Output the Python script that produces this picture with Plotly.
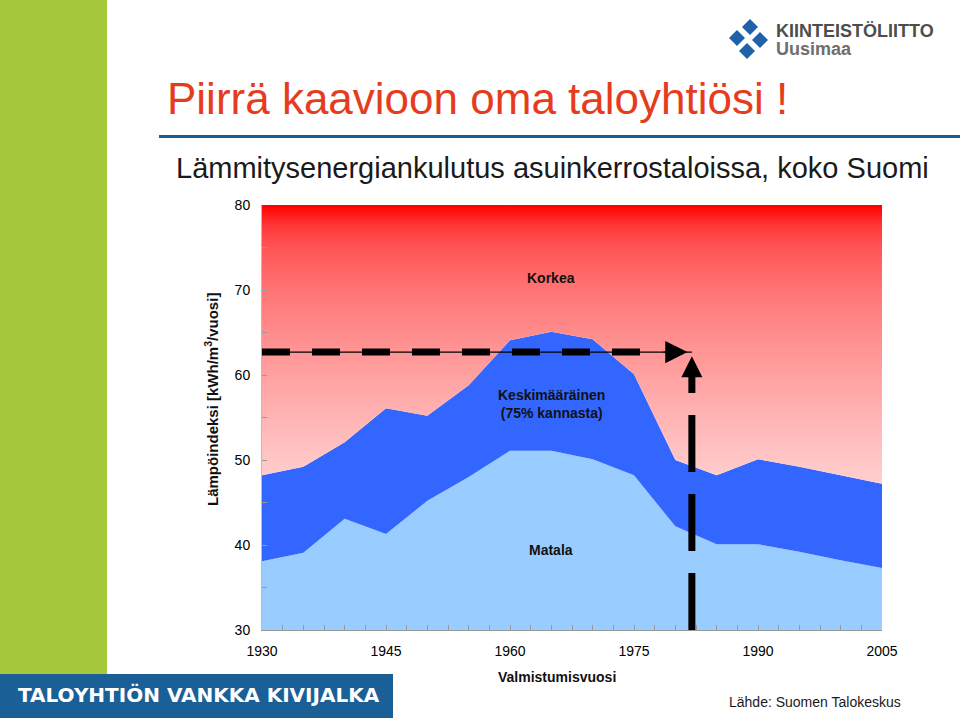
import plotly.graph_objects as go

# data (kWh/m3/vuosi by year of completion)
years = [1930, 1935, 1940, 1945, 1950, 1955, 1960, 1965, 1970, 1975, 1980, 1985, 1990, 1995, 2000, 2005]
matala = [38.1, 39.1, 43.1, 41.3, 45.2, 48.0, 51.1, 51.1, 50.1, 48.2, 42.2, 40.1, 40.1, 39.2, 38.2, 37.3]
keskimaarainen = [48.2, 49.2, 52.1, 56.1, 55.2, 58.8, 64.1, 65.1, 64.2, 60.1, 50.0, 48.2, 50.1, 49.2, 48.2, 47.2]
korkea = [80] * len(years)

# example house drawn on the chart
talo_vuosi = 1982
talo_indeksi = 62.7

FONT = "Arial, Liberation Sans, sans-serif"
BLUE_DARK = "#3366FF"
BLUE_LIGHT = "#99CCFF"

# plot area in pixels, used to place the slide decorations
PL, PR, PT, PB = 262, 882, 205, 630


def px(x):
    return (x - PL) / (PR - PL)


def py(y):
    return (PB - y) / (PB - PT)


red_scale = [
    [0.0, "#FFFFFF"], [0.2, "#FFE4E4"], [0.3, "#FFD5D5"], [0.4, "#FFC6C6"],
    [0.5, "#FFB4B4"], [0.6, "#FFA1A1"], [0.7, "#FF8C8C"], [0.8, "#FF7474"],
    [0.9, "#FF5555"], [0.95, "#FF3939"], [1.0, "#FF0000"],
]

fig = go.Figure()

fig.add_trace(go.Scatter(
    x=years, y=matala, mode="lines", line=dict(width=0),
    fill="tozeroy", fillcolor=BLUE_LIGHT, name="Matala", hoverinfo="skip"
))
fig.add_trace(go.Scatter(
    x=years, y=keskimaarainen, mode="lines", line=dict(width=0),
    fill="tonexty", fillcolor=BLUE_DARK, name="Keskimääräinen", hoverinfo="skip"
))
fig.add_trace(go.Scatter(
    x=years, y=korkea, mode="lines", line=dict(width=0),
    fill="tonexty", fillgradient=dict(type="vertical", colorscale=red_scale, start=30, stop=80),
    name="Korkea", hoverinfo="skip"
))

# dashed guide lines
fig.add_trace(go.Scatter(
    x=[years[0], talo_vuosi], y=[talo_indeksi, talo_indeksi], mode="lines",
    line=dict(color="black", width=1.2), hoverinfo="skip"
))
fig.add_trace(go.Scatter(
    x=[years[0], talo_vuosi - 5], y=[talo_indeksi, talo_indeksi], mode="lines",
    line=dict(color="black", width=7, dash="28px,22px"), hoverinfo="skip"
))
fig.add_trace(go.Scatter(
    x=[talo_vuosi, talo_vuosi], y=[30, talo_indeksi - 1.7], mode="lines",
    line=dict(color="black", width=7, dash="57px,22px"), hoverinfo="skip"
))

# arrow heads
fig.add_annotation(x=talo_vuosi, y=talo_indeksi, ax=-30, ay=0, text="",
                   showarrow=True, arrowhead=2, arrowwidth=1.2, arrowsize=3.7,
                   standoff=4.4, arrowcolor="black")
fig.add_annotation(x=talo_vuosi, y=talo_indeksi, ax=0, ay=20, text="",
                   showarrow=True, arrowhead=2, arrowwidth=1, arrowsize=4.2,
                   standoff=4.2, arrowcolor="black")

label_font = dict(family=FONT, size=14, color="#111111", weight="bold")
fig.add_annotation(x=1965, y=71.4, text="Korkea", showarrow=False, font=label_font)
fig.add_annotation(x=1965, y=56.6, text="Keskimääräinen<br>(75% kannasta)", showarrow=False, font=label_font)
fig.add_annotation(x=1965, y=39.4, text="Matala", showarrow=False, font=label_font)


def slide_text(x, y, text, font, xanchor="left", **kw):
    fig.add_annotation(xref="paper", yref="paper", x=px(x), y=py(y), text=text,
                       xanchor=xanchor, yanchor="middle", showarrow=False, font=font, **kw)


# axis titles
slide_text(211, 400, "Lämpöindeksi [kWh/m<sup>3</sup>/vuosi]", dict(label_font, size=15),
           xanchor="center", textangle=-90)
slide_text(557, 677, "Valmistumisvuosi", label_font, xanchor="center")

# slide texts
slide_text(165, 99, "Piirrä kaavioon oma taloyhtiösi !", dict(family=FONT, size=44, color="#E63C1E"))
slide_text(174, 168, "Lämmitysenergiankulutus asuinkerrostaloissa, koko Suomi",
           dict(family=FONT, size=29, color="#1A1A1A"))
slide_text(727, 702, "Lähde: Suomen Talokeskus", dict(family=FONT, size=14, color="#1A1A1A"))
slide_text(16, 695, "TALOYHTIÖN VANKKA KIVIJALKA",
           dict(family="DejaVu Sans", size=20, color="white", weight="bold"))
slide_text(774, 31, "KIINTEISTÖLIITTO", dict(family=FONT, size=18, color="#4D4D4D", weight="bold"))
slide_text(774, 49, "Uusimaa", dict(family=FONT, size=18, color="#6E6E6E", weight="bold"))

shapes = [
    # green side bar, blue footer bar, title underline
    dict(type="rect", x0=px(0), x1=px(107), y0=py(674), y1=py(0), fillcolor="#A6C93C"),
    dict(type="rect", x0=px(0), x1=px(393), y0=py(718), y1=py(674), fillcolor="#1A5F96"),
    dict(type="rect", x0=px(159), x1=px(960), y0=py(138), y1=py(135), fillcolor="#1A5F94"),
]
# logo diamonds
for cx, cy in [(737, 38), (750, 27), (760, 40), (747, 51)]:
    r = 8
    path = "M {} {} L {} {} L {} {} L {} {} Z".format(
        px(cx - r), py(cy), px(cx), py(cy - r), px(cx + r), py(cy), px(cx), py(cy + r))
    shapes.append(dict(type="path", path=path, fillcolor="#1F62A8"))
for s in shapes:
    s.update(xref="paper", yref="paper", line=dict(width=0), layer="below")

fig.update_layout(
    width=960, height=718,
    margin=dict(l=PL, r=960 - PR, t=PT, b=718 - PB),
    paper_bgcolor="white", plot_bgcolor="white",
    showlegend=False,
    shapes=shapes,
    font=dict(family=FONT, size=14, color="black"),
    xaxis=dict(
        range=[1930, 2005], tickvals=[1930, 1945, 1960, 1975, 1990, 2005],
        ticks="inside", ticklen=5, tickcolor="#999999",
        minor=dict(dtick=2.5, ticks="inside", ticklen=5, tickcolor="#999999"),
        showline=True, linecolor="#999999", showgrid=False, zeroline=False,
        ticklabelstandoff=8, tickfont=dict(size=14),
    ),
    yaxis=dict(
        range=[30, 80], dtick=10,
        ticks="inside", ticklen=5, tickcolor="#999999",
        minor=dict(dtick=5, ticks="inside", ticklen=5, tickcolor="#999999"),
        showline=True, linecolor="#BBBBBB", showgrid=False, zeroline=False,
        ticklabelstandoff=8, tickfont=dict(size=14),
    ),
)

fig.write_html("out.html", config={"displayModeBar": False},
               post_script="document.body.style.margin = '0';")
